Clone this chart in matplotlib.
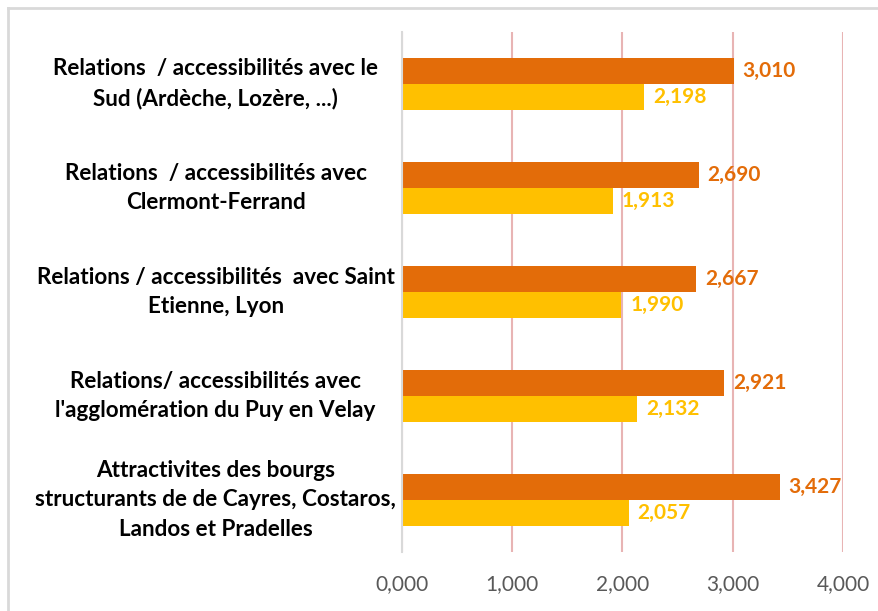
import matplotlib.pyplot as plt
from matplotlib.lines import Line2D
from matplotlib.ticker import FuncFormatter

# Données (de haut en bas)
categories = [
    "Relations  / accessibilités avec le\nSud (Ardèche, Lozère, ...)",
    "Relations  / accessibilités avec\nClermont-Ferrand",
    "Relations / accessibilités  avec Saint\nEtienne, Lyon",
    "Relations/ accessibilités avec\nl'agglomération du Puy en Velay",
    "Attractivites des bourgs\nstructurants de de Cayres, Costaros,\nLandos et Pradelles",
]
serie_orange = [3.010, 2.690, 2.667, 2.921, 3.427]
serie_jaune = [2.198, 1.913, 1.990, 2.132, 2.057]
ticks_x = [0, 1, 2, 3, 4]

c_orange = "#E36C09"
c_jaune = "#FFC000"

plt.rcParams['font.family'] = ['Lato', 'DejaVu Sans']

fig = plt.figure(figsize=(8.79, 6.11), dpi=100)
ax = fig.add_axes([402 / 879, 1 - 552 / 611, 441 / 879, 520 / 611])

h = 0.25
pos = list(range(len(categories)))
ax.barh([p - h / 2 for p in pos], serie_orange, height=h, color=c_orange, zorder=3)
ax.barh([p + h / 2 for p in pos], serie_jaune, height=h, color=c_jaune, zorder=3)

# étiquettes de valeurs
for p, v in zip(pos, serie_orange):
    ax.text(v + 0.08, p - h / 2, f"{v:.3f}".replace(".", ","), color=c_orange,
            fontsize=15, fontweight='bold', va='center', ha='left')
for p, v in zip(pos, serie_jaune):
    ax.text(v + 0.08, p + h / 2, f"{v:.3f}".replace(".", ","), color=c_jaune,
            fontsize=15, fontweight='bold', va='center', ha='left')

ax.set_xlim(0, 4)
ax.set_ylim(len(categories) - 0.5, -0.5)
ax.set_xticks(ticks_x)
ax.xaxis.set_major_formatter(FuncFormatter(lambda x, _: f"{x:.3f}".replace(".", ",")))
ax.tick_params(axis='x', length=0, labelsize=15, labelcolor="#595959", pad=16)
ax.tick_params(axis='y', length=0)
ax.set_yticks(pos)
ax.set_yticklabels([])

# libellés centrés à gauche
for p, lab in zip(pos, categories):
    ax.text(-1.69, p, lab, ha='center', va='center', fontsize=16.2,
            fontweight='bold', color='black', linespacing=1.5)

ax.grid(axis='x', color="#E8B4B4", linewidth=1.5, zorder=0)
for s in ['top', 'right', 'bottom']:
    ax.spines[s].set_visible(False)
ax.spines['left'].set_color("#D9D9D9")
ax.spines['left'].set_linewidth(1.5)
ax.spines['left'].set_zorder(4)

# cadre gris
fig.add_artist(Line2D([8 / 879, 8 / 879], [0, 1 - 8 / 611], color="#D9D9D9", lw=2))
fig.add_artist(Line2D([8 / 879, 1], [1 - 8 / 611, 1 - 8 / 611], color="#D9D9D9", lw=2))

fig.savefig("out.png", dpi=100)
